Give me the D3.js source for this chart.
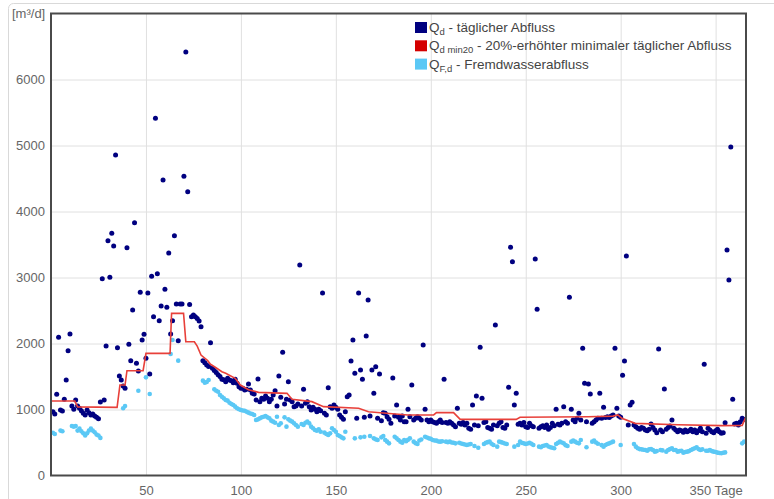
<!DOCTYPE html>
<html><head><meta charset="utf-8">
<script src="https://cdn.jsdelivr.net/npm/d3@7"></script>
<style>body{margin:0;background:#fff;} svg{display:block;font-family:"Liberation Sans",Arial,sans-serif;}</style>
</head><body>
<svg id="chart" width="774" height="499"></svg>
<script>
// Qd - daily discharge, day 1..365
const qd = [
967,932,1230,2094,992,977,1154,1447,1891,2144,
1053,1003,1144,1053,1018,982,942,916,992,952,
916,932,902,881,861,1114,2982,1144,1962,3558,
3003,3670,3477,4856,1937,1508,1447,1356,1321,3452,
1988,1740,2508,3830,1700,1583,2776,2053,2139,1776,
2765,1538,3018,2406,5412,3058,2346,2570,4477,2821,
2548,3371,2144,2346,3633,2600,2042,2600,2600,4533,
6417,4300,2590,2406,2430,2406,2380,2340,2255,1740,
1710,1675,1650,2012,1625,1590,1560,1528,1500,1460,
1450,1420,1472,1447,1437,1407,1457,1397,1346,1321,
1321,1295,1305,1387,1295,1245,1235,1144,1462,1119,
1169,1154,1205,1169,1119,1154,1220,1285,1053,1508,
1184,1867,1083,1154,1422,1144,1119,1043,1053,1083,
3189,1053,1305,1093,1119,1043,992,1033,1003,967,
1003,982,2765,942,916,1331,1043,1018,1068,1033,
1003,916,881,851,967,1194,1220,1735,2053,1548,
866,2765,1598,1457,881,2114,2659,901,1598,1245,
1649,866,1538,830,952,942,891,851,790,1477,
901,1068,881,841,901,815,815,1003,891,1371,
841,866,891,866,841,1977,1003,841,816,841,
816,803,790,816,841,803,1457,803,790,816,
790,765,740,1018,790,778,803,765,790,715,
700,1068,765,1205,752,1942,1169,803,815,727,
715,702,765,2280,752,790,815,727,715,765,
1336,3460,3240,1068,1245,778,790,765,803,740,
727,790,752,740,3280,2520,715,740,752,727,
765,702,727,790,752,1003,778,765,790,1043,
815,790,2700,1003,840,815,866,942,840,1927,
1397,815,1386,1235,790,815,841,866,1245,866,
1033,878,891,878,903,917,1927,1018,901,882,
1518,1735,3326,765,1068,1109,765,740,715,702,
727,715,689,679,702,780,727,689,649,1917,
689,664,1311,702,727,750,841,715,689,664,
689,679,654,689,664,679,702,664,689,649,
679,715,664,1685,639,715,689,664,649,679,
702,664,639,649,800,3417,2962,4977,1154,780,
790,765,815,866,850
];
// QF,d - infiltration water discharge, day 1..365 (null = no value)
const qf = [
648,629,null,null,680,670,null,null,null,null,
750,740,750,680,710,670,640,605,640,680,
710,680,655,620,605,570,null,null,null,null,
null,null,null,null,null,null,null,1018,1053,null,
null,null,null,null,null,1285,null,null,null,1487,
null,1235,null,null,null,null,null,null,null,null,
null,null,1841,2053,null,null,1740,null,null,null,
null,null,null,null,null,null,null,null,null,1437,
1407,1417,1447,null,null,1305,1285,1270,1220,1194,
1169,1144,1134,1103,1083,1068,1043,1018,1003,992,
985,982,967,952,940,932,917,841,851,866,
881,891,901,881,866,831,816,800,891,765,
790,null,881,740,851,831,816,790,765,740,
null,780,765,800,816,790,740,715,689,679,
700,664,null,649,629,614,639,715,689,664,
614,598,578,563,664,null,null,null,null,563,
null,null,578,null,588,null,null,598,null,563,
548,538,null,578,598,538,513,487,null,null,
588,563,538,513,497,538,520,540,563,null,
513,490,477,530,545,null,588,575,563,555,
538,530,528,515,513,520,null,513,505,513,
500,497,487,null,497,485,477,470,462,470,
477,null,447,null,420,null,null,477,497,505,
513,480,462,null,437,513,505,497,485,477,
null,null,null,437,null,462,513,495,487,477,
485,497,480,462,null,null,437,427,447,455,
462,440,427,420,412,477,495,513,500,487,
460,447,null,513,528,513,497,487,538,null,
null,427,null,null,513,528,500,480,null,460,
437,462,477,487,500,513,null,null,null,462,
null,null,null,null,null,null,477,437,412,400,
396,390,386,376,396,400,386,361,370,null,
386,380,null,361,386,400,412,386,386,361,
370,376,346,355,361,370,386,400,412,427,
400,386,396,null,376,376,386,370,361,355,
346,340,336,345,350,null,null,null,null,null,
null,null,null,487,513
];
// Qd min20 - vertices of the line (day, value)
const minDays   = [0,12.5,14,34.8,36.3,39,40,48.5,50,62.7,63.5,69.8,71,75.5,77,79,82.5,84,86.5,90,92,97,99.7,104,109.3,124.3,126.9,137.4,143.5,162,167.2,183,188,201.5,203,212,215.5,245,247,283,296,298.5,300.6,307.6,330,353,364,366];
const minValues = [1129,1129,1040,1033,1371,1371,1588,1588,1851,1851,2457,2457,2027,2027,1960,1826,1740,1685,1640,1573,1548,1472,1371,1300,1260,1245,1154,1119,1043,1018,967,927,917,917,952,952,851,851,882,891,900,917,866,790,770,755,760,891];

const yTicks = [0,1000,2000,3000,4000,5000,6000];
const xTicks = [50,100,150,200,250,300,350];
const xTickLabels = ["50","100","150","200","250","300","350 Tage"];
const yUnit = "[m³/d]";
const legendMain = ["Q","Q","Q"];
const legendSub = ["d","d min20","F,d"];
const legendRest = [" - täglicher Abfluss"," - 20%-erhöhter minimaler täglicher Abfluss"," - Fremdwasserabfluss"];
const legendColors = ["#000080","#d40000","#5bc8f5"];

const svg = d3.select("#chart");
const x = d3.scaleLinear().domain([0,366]).range([51,746]);
const y = d3.scaleLinear().domain([0,7000]).range([475.5,13.5]);

// outer light border
svg.append("rect").attr("x",8.5).attr("y",3.5).attr("width",900).attr("height",700)
  .attr("rx",5).attr("fill","none").attr("stroke","#d9d9d9");

// x axis + grid
const gx = svg.append("g").attr("transform",`translate(0,${y(0)})`)
  .call(d3.axisBottom(x).tickValues(xTicks).tickSize(-(y(0)-y(7000))).tickPadding(10)
    .tickFormat((d,i)=>xTickLabels[i]));
gx.select(".domain").remove();
gx.selectAll(".tick line").attr("stroke","#e0e0e0");
gx.selectAll(".tick text").attr("fill","#666").attr("font-size",13)
  .attr("font-family","'Liberation Sans',Arial,sans-serif");

// y axis + grid
const gy = svg.append("g").attr("transform",`translate(${x(0)},0)`)
  .call(d3.axisLeft(y).tickValues(yTicks).tickSize(-(x(366)-x(0))).tickPadding(6)
    .tickFormat(d3.format("d")));
gy.select(".domain").remove();
gy.selectAll(".tick line").attr("stroke",d=>d===0?"none":"#e0e0e0");
gy.selectAll(".tick text").attr("fill","#666").attr("font-size",13)
  .attr("font-family","'Liberation Sans',Arial,sans-serif");

svg.append("text").attr("x",12).attr("y",18).attr("fill","#666").attr("font-size",13).text(yUnit);

// light blue dots
const qfData = qf.map((v,i)=>({d:i+1,v})).filter(p=>p.v!==null);
svg.append("g").selectAll("circle").data(qfData).join("circle")
  .attr("cx",p=>x(p.d)).attr("cy",p=>y(p.v)).attr("r",2.3).attr("fill","#5bc8f5");

// dark dots
const qdData = qd.map((v,i)=>({d:i+1,v})).filter(p=>p.v!==null);
svg.append("g").selectAll("circle").data(qdData).join("circle")
  .attr("cx",p=>x(p.d)).attr("cy",p=>y(p.v)).attr("r",2.5).attr("fill","#000080");

// red line
const minData = minDays.map((d,i)=>({d,v:minValues[i]}));
svg.append("path").datum(minData)
  .attr("d",d3.line().x(p=>x(p.d)).y(p=>y(p.v)))
  .attr("fill","none").attr("stroke","#e8403a").attr("stroke-width",1.6);

// frame
const fr = svg.append("g").attr("stroke","#4a4a4a").attr("stroke-width",2).attr("fill","none");
fr.append("path").attr("d",`M${x(0)},${y(0)}V${y(7000)}H${x(366)}V${y(0)}`);
fr.append("line").attr("x1",x(0)-1).attr("x2",x(366)+1).attr("y1",y(0)).attr("y2",y(0));

// legend
const lg = svg.append("g").attr("transform","translate(415,22)");
legendMain.forEach((m,i)=>{
  const row = lg.append("g").attr("transform",`translate(0,${i*18.3})`);
  row.append("rect").attr("width",12).attr("height",11).attr("fill",legendColors[i]);
  const t = row.append("text").attr("x",14).attr("y",10).attr("fill","#444").attr("font-size",13.5);
  t.append("tspan").text(m);
  t.append("tspan").attr("font-size",9.5).attr("dy",3).text(legendSub[i]);
  t.append("tspan").attr("dy",-3).text(legendRest[i]);
});
</script>
</body></html>
